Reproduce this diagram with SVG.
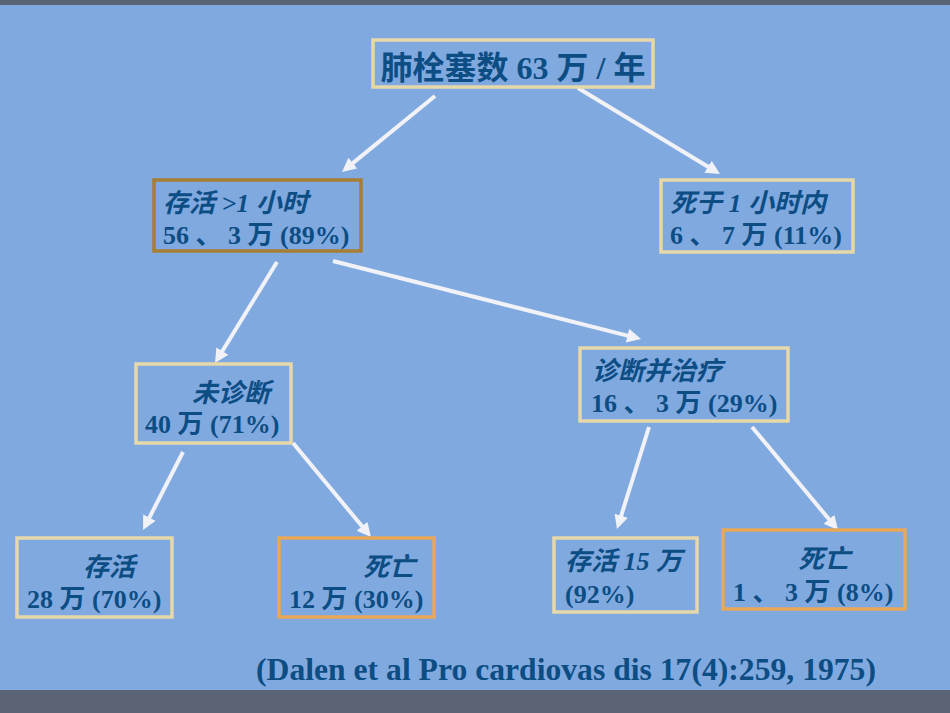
<svg xmlns="http://www.w3.org/2000/svg" width="950" height="713" viewBox="0 0 950 713">
<defs>
<style>
.bg{fill:#80A9E0}
.bar{fill:#5A6475}
.box{fill:none;stroke-width:3.5}
.beige{stroke:#E6D8A8}
.brown{stroke:#A77E33}
.orange{stroke:#E9A858}
text{fill:#0C4D84;font-family:"Liberation Serif","Noto Sans CJK SC",serif;font-weight:bold}
.t{font-size:26px}
.it{font-style:italic}
.root{font-size:32px}
.conn line{stroke:#F0F2F8;stroke-width:4}
</style>
<marker id="ah" markerUnits="userSpaceOnUse" markerWidth="16" markerHeight="16" refX="2" refY="7" orient="auto">
<path d="M0,0 L14,7 L0,14 z" fill="#F0F2F8"/>
</marker>
</defs>
<rect class="bg" x="0" y="0" width="950" height="713"/>
<rect class="bar" x="0" y="0" width="950" height="5"/>
<rect class="bar" x="0" y="690" width="950" height="23"/>

<g id="connectors" class="conn">
<line x1="435" y1="96" x2="351.3" y2="164.4" marker-end="url(#ah)"/>
<line x1="578" y1="88" x2="709.7" y2="167.8" marker-end="url(#ah)"/>
<line x1="277" y1="262" x2="221.3" y2="352.8" marker-end="url(#ah)"/>
<line x1="333" y1="261" x2="629.4" y2="336.1" marker-end="url(#ah)"/>
<line x1="183" y1="452" x2="148.5" y2="519.3" marker-end="url(#ah)"/>
<line x1="293" y1="443" x2="363.3" y2="527.8" marker-end="url(#ah)"/>
<line x1="649" y1="427" x2="620.6" y2="517.6" marker-end="url(#ah)"/>
<line x1="752" y1="427" x2="830.3" y2="520.8" marker-end="url(#ah)"/>
</g>

<g id="root">
<rect class="box beige" x="373" y="40" width="280" height="47"/>
<text class="root" x="513" y="79" text-anchor="middle">肺栓塞数 63 万 / 年</text>
</g>

<g id="survive1h">
<rect class="box brown" x="154" y="180" width="207" height="71"/>
<text class="t it" x="163" y="212">存活 &gt;1 小时</text>
<text class="t" x="163" y="244">56 、 3 万 (89%)</text>
</g>

<g id="die1h">
<rect class="box beige" x="661" y="180" width="192" height="72"/>
<text class="t it" x="670" y="212">死于 1 小时内</text>
<text class="t" x="670" y="244">6 、 7 万 (11%)</text>
</g>

<g id="undiagnosed">
<rect class="box beige" x="136" y="364" width="155" height="79"/>
<text class="t it" x="192" y="402">未诊断</text>
<text class="t" x="145" y="433">40 万 (71%)</text>
</g>

<g id="diagnosed">
<rect class="box beige" x="580" y="348" width="208" height="73"/>
<text class="t it" x="592" y="380">诊断并治疗</text>
<text class="t" x="591" y="412">16 、 3 万 (29%)</text>
</g>

<g id="survive-undiag">
<rect class="box beige" x="17" y="538" width="155" height="79"/>
<text class="t it" x="83" y="576">存活</text>
<text class="t" x="27" y="608">28 万 (70%)</text>
</g>

<g id="die-undiag">
<rect class="box orange" x="279" y="538" width="155" height="79"/>
<text class="t it" x="363" y="576">死亡</text>
<text class="t" x="289" y="608">12 万 (30%)</text>
</g>

<g id="survive-diag">
<rect class="box beige" x="554" y="538" width="143" height="74"/>
<text class="t it" x="565" y="570">存活 15 万</text>
<text class="t" x="565" y="603">(92%)</text>
</g>

<g id="die-diag">
<rect class="box orange" x="723" y="530" width="182" height="79"/>
<text class="t it" x="798" y="568">死亡</text>
<text class="t" x="733" y="601">1 、 3 万 (8%)</text>
</g>

<text x="256" y="680" font-size="31" textLength="620" lengthAdjust="spacingAndGlyphs">(Dalen et al Pro cardiovas dis 17(4):259, 1975)</text>
</svg>
